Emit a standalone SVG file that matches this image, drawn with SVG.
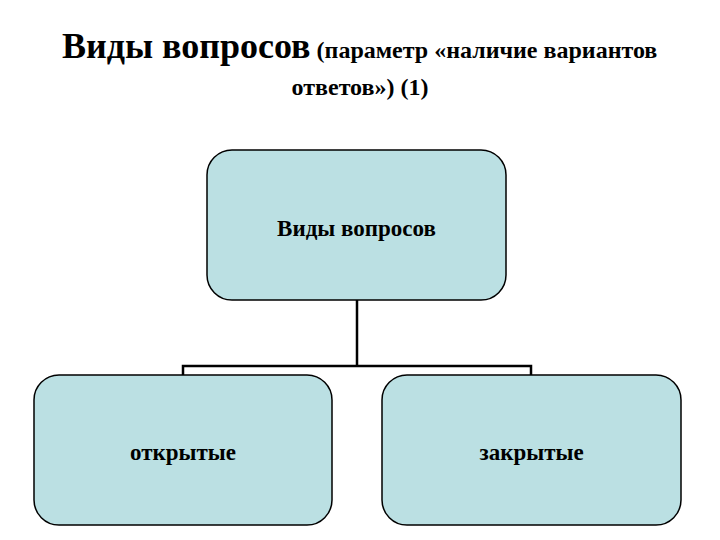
<svg xmlns="http://www.w3.org/2000/svg" width="720" height="540" viewBox="0 0 720 540">
<style>
.node{fill:#bbe0e3;stroke:#000;stroke-width:1.5}
.lbl{font-family:"Liberation Serif","Times New Roman",serif;font-size:23px;font-weight:bold;fill:#000;text-anchor:middle}
.conn{fill:none;stroke:#000;stroke-width:2.5}
.t{font-family:"Liberation Serif","Times New Roman",serif;fill:#000;font-weight:bold}
</style>
<rect width="720" height="540" fill="#fff"/>
<g id="title">
<text class="t" x="62" y="58"><tspan font-size="36">Виды вопросов</tspan><tspan font-size="24"> (параметр «наличие вариантов</tspan></text>
<text class="t" x="360" y="95" font-size="24" text-anchor="middle">ответов») (1)</text>
</g>
<g id="connectors">
<path class="conn" d="M357 300 V366 M183 375 V366 H531 V375"/>
</g>
<g id="root">
<rect class="node" x="207" y="150" width="299" height="150" rx="25"/>
<text class="lbl" x="356.5" y="236">Виды вопросов</text>
</g>
<g id="open">
<rect class="node" x="34" y="375" width="298" height="150" rx="25"/>
<text class="lbl" x="183" y="460">открытые</text>
</g>
<g id="closed">
<rect class="node" x="382" y="375" width="299" height="150" rx="25"/>
<text class="lbl" x="531.5" y="460">закрытые</text>
</g>
</svg>
